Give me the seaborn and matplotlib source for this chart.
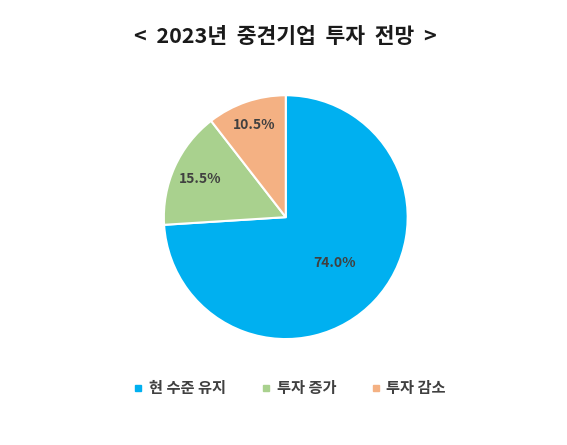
import matplotlib
matplotlib.use('Agg')
import matplotlib.pyplot as plt
import seaborn as sns
import numpy as np
from matplotlib.lines import Line2D

# --- data ---
categories = ['현 수준 유지', '투자 증가', '투자 감소']
shares = [74.0, 15.5, 10.5]
title = '<  2023년  중견기업  투자  전망  >'

colors = ['#00B0F0', '#A9D18E', '#F4B183']
label_r = [0.55, 0.77, 0.80]   # how far from centre each percent label sits

sns.set_theme(style='white')
plt.rcParams['font.family'] = ['Noto Sans CJK KR', 'DejaVu Sans']

fig = plt.figure(figsize=(5.67, 4.45), dpi=100)
ax = fig.add_axes([0.289, 0.238, 0.430, 0.548])

wedges, _ = ax.pie(shares, colors=colors, startangle=90, counterclock=False,
                   wedgeprops=dict(edgecolor='white', linewidth=1.5))

for w, val, r in zip(wedges, shares, label_r):
    mid = np.deg2rad((w.theta1 + w.theta2) / 2)
    ax.text(r * np.cos(mid), r * np.sin(mid), f'{val:.1f}%',
            ha='center', va='center', fontsize=10, fontweight='bold', color='#404040')

ax.set_xlim(-1.0, 1.0)
ax.set_ylim(-1.0, 1.0)
ax.set_aspect('equal')
ax.axis('off')

fig.text(0.503, 0.918, title, ha='center', va='center', fontsize=15.5,
         fontweight='bold', color='#1a1a1a')

handles = [Line2D([0], [0], marker='s', linestyle='', markersize=5,
                  markerfacecolor=c, markeredgecolor=c) for c in colors]
leg = fig.legend(handles, categories, loc='center', bbox_to_anchor=(0.510, 0.128),
                 ncol=3, frameon=False, fontsize=11, handletextpad=0.3,
                 columnspacing=2.2, handlelength=0.8)
for t in leg.get_texts():
    t.set_color('#404040')
    t.set_fontweight('bold')

fig.savefig('out.png', dpi=100, facecolor='white')
